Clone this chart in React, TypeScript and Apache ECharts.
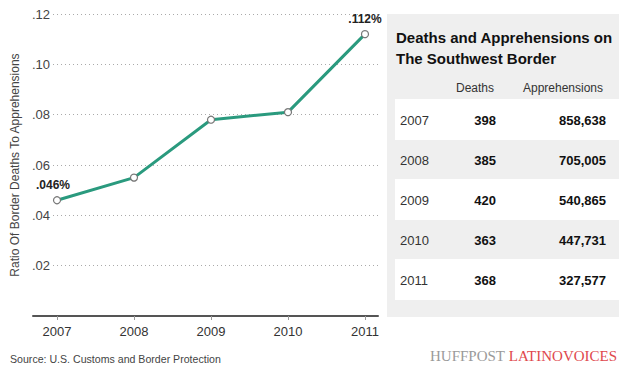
import React, { useEffect, useRef } from "react";
import * as echarts from "echarts";

const years = ["2007", "2008", "2009", "2010", "2011"];
const yearValues = [2007, 2008, 2009, 2010, 2011];
const ratios = [0.046, 0.055, 0.078, 0.081, 0.112];
const pointLabels = [".046%", "", "", "", ".112%"];
const deaths = ["398", "385", "420", "363", "368"];
const apprehensions = ["858,638", "705,005", "540,865", "447,731", "327,577"];
const yTickLabels: Record<string, string> = {
  "0.02": ".02",
  "0.04": ".04",
  "0.06": ".06",
  "0.08": ".08",
  "0.1": ".10",
  "0.12": ".12",
};

const FONT = "'Liberation Sans', Arial, sans-serif";

export default function App() {
  const ref = useRef<HTMLDivElement>(null);
  useEffect(() => {
    if (!ref.current) return;
    const chart = echarts.init(ref.current, null, { renderer: "svg" });

    const tableGraphics: any[] = [
      {
        type: "rect",
        shape: { x: 387, y: 14, width: 240, height: 303 },
        style: { fill: "#efefef" },
        z: 0,
      },
      {
        type: "text",
        x: 396,
        y: 37,
        style: {
          text: "Deaths and Apprehensions on",
          font: `bold 15px ${FONT}`,
          fill: "#111",
          textVerticalAlign: "middle",
        },
      },
      {
        type: "text",
        x: 396,
        y: 58,
        style: {
          text: "The Southwest Border",
          font: `bold 15px ${FONT}`,
          fill: "#111",
          textVerticalAlign: "middle",
        },
      },
      {
        type: "text",
        x: 475,
        y: 88,
        style: {
          text: "Deaths",
          font: `12px ${FONT}`,
          fill: "#333",
          textAlign: "center",
          textVerticalAlign: "middle",
        },
      },
      {
        type: "text",
        x: 563,
        y: 88,
        style: {
          text: "Apprehensions",
          font: `12px ${FONT}`,
          fill: "#333",
          textAlign: "center",
          textVerticalAlign: "middle",
        },
      },
    ];

    years.forEach((yr, i) => {
      const cy = 120 + i * 40;
      if (i % 2 === 0) {
        tableGraphics.push({
          type: "rect",
          shape: { x: 395, y: cy - 21, width: 230, height: 41 },
          style: { fill: "#ffffff" },
          z: 1,
        });
      }
      tableGraphics.push(
        {
          type: "text",
          x: 400,
          y: cy,
          z: 2,
          style: {
            text: yr,
            font: `13px ${FONT}`,
            fill: "#333",
            textVerticalAlign: "middle",
          },
        },
        {
          type: "text",
          x: 496,
          y: cy,
          z: 2,
          style: {
            text: deaths[i],
            font: `bold 13px ${FONT}`,
            fill: "#111",
            textAlign: "right",
            textVerticalAlign: "middle",
          },
        },
        {
          type: "text",
          x: 606,
          y: cy,
          z: 2,
          style: {
            text: apprehensions[i],
            font: `bold 13px ${FONT}`,
            fill: "#111",
            textAlign: "right",
            textVerticalAlign: "middle",
          },
        }
      );
    });

    tableGraphics.push(
      {
        type: "text",
        x: 10,
        y: 359,
        style: {
          text: "Source: U.S. Customs and Border Protection",
          font: `10.6px ${FONT}`,
          fill: "#444",
          textVerticalAlign: "middle",
        },
      },
      {
        type: "text",
        x: 430,
        y: 356,
        style: {
          text: "{a|HUFFPOST }{b|LATINOVOICES}",
          textVerticalAlign: "middle",
          rich: {
            a: {
              fontFamily: "'Liberation Serif', 'DejaVu Serif', serif",
              fontSize: 15,
              fill: "#9a9a9a",
              color: "#9a9a9a",
            },
            b: {
              fontFamily: "'Liberation Serif', 'DejaVu Serif', serif",
              fontSize: 15,
              fill: "#e0484d",
              color: "#e0484d",
            },
          },
        },
      }
    );

    chart.setOption({
      animation: false,
      backgroundColor: "#ffffff",
      textStyle: { fontFamily: FONT },
      grid: [
        { left: 53, right: 241, top: 14, bottom: 50 },
        { left: 33, right: 241, top: 14, bottom: 50 },
      ],
      xAxis: [
        {
          type: "value",
          gridIndex: 0,
          min: 2006.948,
          max: 2011.169,
          axisLine: { show: false },
          splitLine: { show: false },
          axisTick: {
            show: true,
            customValues: yearValues,
            length: 4,
            inside: false,
            lineStyle: { color: "#999", width: 1 },
          },
          axisLabel: {
            customValues: yearValues,
            formatter: (v: number) => String(v),
            fontSize: 13,
            color: "#333",
            margin: 9,
          },
        },
        {
          type: "value",
          gridIndex: 1,
          min: 0,
          max: 1,
          axisLine: { show: true, lineStyle: { color: "#555", width: 2 } },
          axisTick: { show: false },
          axisLabel: { show: false },
          splitLine: { show: false },
        },
      ],
      yAxis: [
        {
          type: "value",
          gridIndex: 0,
          min: 0,
          max: 0.12,
          interval: 0.02,
          axisLine: { show: false },
          axisTick: { show: false },
          axisLabel: {
            formatter: (v: number) => yTickLabels[String(+v.toFixed(2))] || "",
            fontSize: 13,
            color: "#444",
            margin: 3,
          },
          splitLine: {
            show: true,
            lineStyle: { color: "#aaa", type: [1, 3], width: 1 },
          },
          name: "Ratio Of Border Deaths To Apprehensions",
          nameLocation: "middle",
          nameGap: 29,
          nameTextStyle: { fontSize: 12, color: "#444" },
        },
        {
          type: "value",
          gridIndex: 1,
          min: 0,
          max: 1,
          show: false,
        },
      ],
      series: [
        {
          type: "line",
          xAxisIndex: 0,
          yAxisIndex: 0,
          data: yearValues.map((x, i) => [x, ratios[i]]),
          lineStyle: { color: "#2a9a7e", width: 3 },
          symbol: "circle",
          symbolSize: 7,
          itemStyle: { color: "#ffffff", borderColor: "#777", borderWidth: 1.2 },
          z: 3,
          label: {
            show: true,
            position: "top",
            distance: 5,
            fontWeight: "bold",
            fontSize: 12,
            color: "#222",
            formatter: (p: any) => pointLabels[p.dataIndex],
          },
          labelLayout: (p: any) => (p.dataIndex === 0 ? { dx: -4 } : {}),
        },
      ],
      graphic: tableGraphics,
    });

    return () => chart.dispose();
  }, []);

  return (
    <div
      ref={ref}
      style={{ position: "fixed", left: 0, top: 0, width: 619, height: 366 }}
    />
  );
}
